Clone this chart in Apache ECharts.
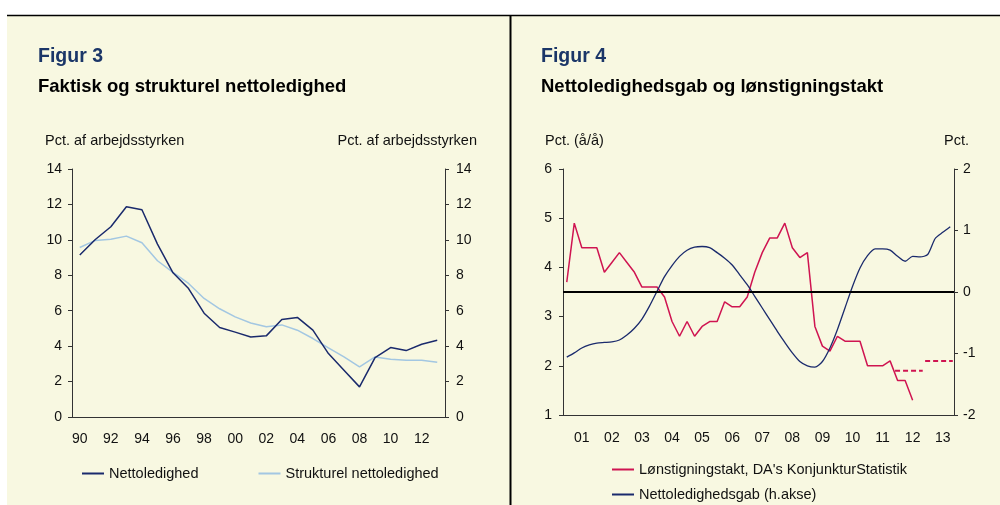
<!DOCTYPE html>
<html>
<head>
<meta charset="utf-8">
<script src="https://cdn.jsdelivr.net/npm/echarts@6/dist/echarts.min.js"></script>
<style>
html,body{margin:0;padding:0;background:#fff;}
#c{width:1000px;height:505px;}
</style>
</head>
<body>
<div id="c"></div>
<script>
// ---------- DATA ----------
// Figur 3: annual, 1990-2013
var years3 = ['90','91','92','93','94','95','96','97','98','99','00','01','02','03','04','05','06','07','08','09','10','11','12','13'];
var netto = [9.14,10.02,10.74,11.87,11.70,9.76,8.14,7.25,5.86,5.05,4.79,4.52,4.58,5.50,5.62,4.90,3.58,2.64,1.70,3.35,3.92,3.75,4.11,4.33];
var struk = [9.57,9.97,10.04,10.21,9.84,8.82,8.16,7.54,6.69,6.11,5.65,5.31,5.09,5.20,4.90,4.43,3.90,3.39,2.83,3.39,3.26,3.20,3.20,3.09];

// Figur 4: quarterly, 2001K1-2013K4
var years4 = [2001,2002,2003,2004,2005,2006,2007,2008,2009,2010,2011,2012,2013];
var yearLabels4 = ['01','02','03','04','05','06','07','08','09','10','11','12','13'];
var wage = [3.7,4.9,4.4,4.4,4.4,3.9,4.1,4.3,4.1,3.9,3.6,3.6,3.6,3.4,2.9,2.6,2.9,2.6,2.8,2.9,2.9,3.3,3.2,3.2,3.4,3.9,4.3,4.6,4.6,4.9,4.4,4.2,4.3,2.8,2.4,2.3,2.6,2.5,2.5,2.5,2.0,2.0,2.0,2.1,1.7,1.7,1.3];
var gap = [-1.06,-0.99,-0.91,-0.86,-0.83,-0.82,-0.81,-0.78,-0.70,-0.59,-0.44,-0.23,0.01,0.25,0.43,0.58,0.68,0.73,0.74,0.72,0.64,0.55,0.44,0.28,0.12,-0.07,-0.26,-0.45,-0.64,-0.82,-0.99,-1.13,-1.20,-1.22,-1.13,-0.91,-0.61,-0.26,0.09,0.39,0.59,0.70,0.70,0.68,0.58,0.50,0.58,0.57,0.61,0.87,0.97,1.06];
// forecast (annual, dashed)
var fcYears = [2012, 2013];
var fcValues = [1.9, 2.1];

// ---------- BUILD ----------
var quarters = [];
years4.forEach(function(y){ for (var q=1;q<=4;q++) quarters.push(y+'K'+q); });

var NAVY = '#1a2a6c', LIGHT = '#a3c7e2', RED = '#cf1451', CREAM = '#f8f8e1';
var FONT = 'Liberation Sans, Arial, sans-serif';
var txt = '#111';
var WAGE_NAME = "Lønstigningstakt, DA's KonjunkturStatistik";
var GAP_NAME = 'Nettoledighedsgab (h.akse)';

function valAxis(grid, pos, min, max, interval, margin) {
  return {
    type:'value', gridIndex:grid, position:pos, min:min, max:max, interval:interval,
    splitLine:{show:false},
    axisLine:{show:true, lineStyle:{color:'#333', width:1}},
    axisTick:{show:true, length:4, lineStyle:{color:'#333'}},
    axisLabel:{color:txt, fontSize:14, fontFamily:FONT, margin:margin}
  };
}
function legend(names, left, top, gap) {
  return {data:names, left:left, top:top, padding:0, icon:'rect', itemWidth:22, itemHeight:2, itemGap:gap||10,
          textStyle:{fontSize:14.5, color:txt, fontFamily:FONT}, selectedMode:false};
}

var fcSeries = fcYears.map(function(y, i){
  return {
    type:'line', xAxisIndex:2, yAxisIndex:2, symbol:'none', silent:true,
    data:[[y+0.04, fcValues[i]],[y+0.96, fcValues[i]]],
    lineStyle:{color:RED, width:2, type:[5,3]}
  };
});

var option = {
  animation:false,
  backgroundColor:'#ffffff',
  textStyle:{fontFamily:FONT},
  graphic:[
    {type:'rect', z:-10, shape:{x:7,y:15,width:993,height:490}, style:{fill:CREAM}},
    {type:'line', shape:{x1:7,y1:15.5,x2:1000,y2:15.5}, style:{stroke:'#000', lineWidth:1.5}},
    {type:'line', shape:{x1:510.5,y1:15,x2:510.5,y2:505}, style:{stroke:'#000', lineWidth:2}},
    {type:'text', style:{x:38,y:57,text:'Figur 3',font:'bold 19.5px '+FONT,fill:'#1b3668',textVerticalAlign:'middle'}},
    {type:'text', style:{x:38,y:87,text:'Faktisk og strukturel nettoledighed',font:'bold 18.5px '+FONT,fill:'#000',textVerticalAlign:'middle'}},
    {type:'text', style:{x:45,y:141,text:'Pct. af arbejdsstyrken',font:'14.5px '+FONT,fill:txt,textVerticalAlign:'middle'}},
    {type:'text', style:{x:477,y:141,text:'Pct. af arbejdsstyrken',font:'14.5px '+FONT,fill:txt,textVerticalAlign:'middle',textAlign:'right'}},
    {type:'text', style:{x:541,y:57,text:'Figur 4',font:'bold 19.5px '+FONT,fill:'#1b3668',textVerticalAlign:'middle'}},
    {type:'text', style:{x:541,y:87,text:'Nettoledighedsgab og lønstigningstakt',font:'bold 18.5px '+FONT,fill:'#000',textVerticalAlign:'middle'}},
    {type:'text', style:{x:545,y:141,text:'Pct. (å/å)',font:'14.5px '+FONT,fill:txt,textVerticalAlign:'middle'}},
    {type:'text', style:{x:969,y:141,text:'Pct.',font:'14.5px '+FONT,fill:txt,textVerticalAlign:'middle',textAlign:'right'}}
  ],
  grid:[
    {left:72, top:169, width:373, height:248},
    {left:563, top:169, width:391, height:246}
  ],
  legend:[
    legend(['Nettoledighed','Strukturel nettoledighed'], 82, 466, 60),
    legend([WAGE_NAME], 612, 462),
    legend([GAP_NAME], 612, 487)
  ],
  xAxis:[
    {type:'category', gridIndex:0, data:years3, boundaryGap:true,
     axisLine:{onZero:false, lineStyle:{color:'#333'}},
     axisTick:{interval:0, length:4, lineStyle:{color:'#333'}},
     axisLabel:{interval:1, color:txt, fontSize:14, fontFamily:FONT, margin:15}},
    {type:'category', gridIndex:1, data:quarters, boundaryGap:true,
     axisLine:{onZero:false, lineStyle:{color:'#333'}},
     axisTick:{interval:3, length:4, lineStyle:{color:'#333'}},
     axisLabel:{interval:function(i){return i%4===2;}, formatter:function(v, i){return yearLabels4[Math.floor(i/4)];},
                color:txt, fontSize:14, fontFamily:FONT, margin:16}},
    {type:'value', gridIndex:1, min:2001, max:2014, show:false}
  ],
  yAxis:[
    valAxis(0,'left',0,14,2,10),
    valAxis(0,'right',0,14,2,11),
    valAxis(1,'left',1,6,1,11),
    valAxis(1,'right',-2,2,1,9)
  ],
  series:[
    {name:'Nettoledighed', type:'line', xAxisIndex:0, yAxisIndex:0, data:netto, symbol:'none', z:3,
     lineStyle:{color:NAVY, width:1.5}, itemStyle:{color:NAVY}},
    {name:'Strukturel nettoledighed', type:'line', xAxisIndex:0, yAxisIndex:0, data:struk, symbol:'none', z:2,
     lineStyle:{color:LIGHT, width:1.5}, itemStyle:{color:LIGHT}},
    {name:WAGE_NAME, type:'line', xAxisIndex:1, yAxisIndex:2, data:wage, symbol:'none',
     lineStyle:{color:RED, width:1.5}, itemStyle:{color:RED}},
    {name:GAP_NAME, type:'line', xAxisIndex:1, yAxisIndex:3, data:gap, symbol:'none', smooth:0.25,
     lineStyle:{color:NAVY, width:1.3}, itemStyle:{color:NAVY},
     markLine:{silent:true, symbol:'none', label:{show:false}, lineStyle:{color:'#000', width:2, type:'solid'},
               data:[{yAxis:0}]}}
  ].concat(fcSeries)
};

var chart = echarts.init(document.getElementById('c'), null, {renderer:'canvas'});
chart.setOption(option);
</script>
</body>
</html>
